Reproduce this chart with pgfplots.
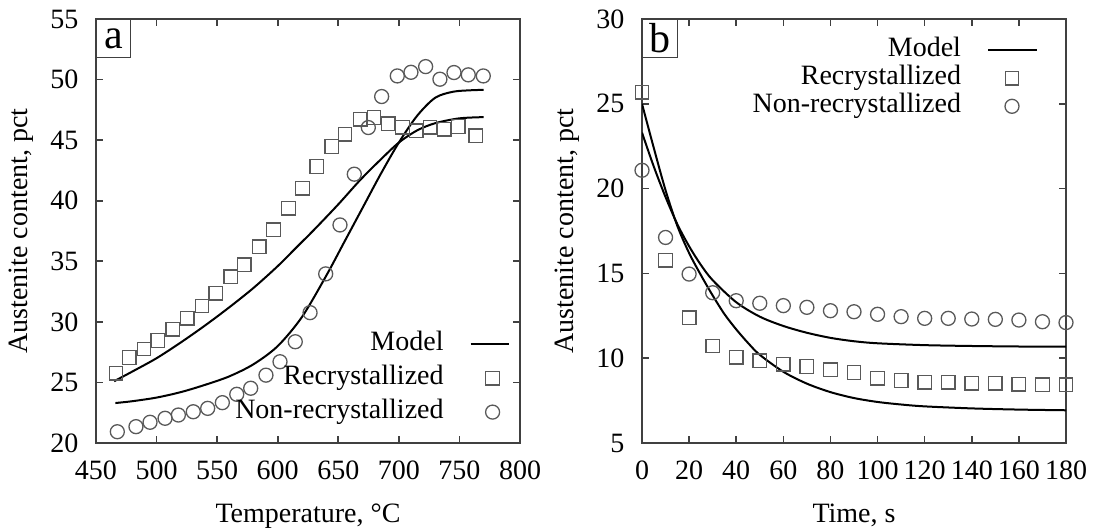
\documentclass[border=0pt]{standalone}
\usepackage{fontspec}
\setmainfont{Liberation Serif}
\usepackage{pgfplots}
\pgfplotsset{compat=1.18}

\pgfplotsset{
  gp/.style={
    scale only axis, width=212pt, height=212pt,
    axis line style={draw=black!75, line width=0.8pt},
    every tick/.style={draw=black!75, line width=0.8pt},
    major tick length=3.5pt,
    tick align=inside, xtick pos=both, ytick pos=both,
    /pgf/number format/assume math mode=true,
    tick label style={font=\fontsize{14}{16}\selectfont},
    xticklabel style={yshift=-4pt},
    yticklabel style={xshift=-4pt},
    label style={font=\fontsize{14}{16}\selectfont},
    xlabel style={yshift=-2.5pt},
    ylabel style={yshift=-1pt},
    legend plot pos=right,
    legend cell align=right,
    legend style={draw=none, fill=none, inner sep=0pt,
      font=\fontsize{14}{16}\selectfont,
      nodes={inner sep=0pt, text height=9.5pt, text depth=3pt},
      /tikz/column sep=13pt},
  },
  model/.style={black, line width=1pt, smooth, mark=none},
  sq/.style={only marks, mark=square, mark size=3.4pt,
    mark options={draw=black!65, line width=0.65pt}},
  ci/.style={only marks, mark=o, mark size=3.5pt,
    mark options={draw=black!65, line width=0.65pt}},
}

\begin{document}
\fontsize{14}{16}\selectfont
\begin{tikzpicture}
\path[use as bounding box] (-48pt,-44pt) rectangle (500.5pt,221.5pt);

% ---------- a: temperature ----------
\begin{axis}[gp, at={(0pt,0pt)},
  xmin=450, xmax=800, ymin=20, ymax=55,
  xtick={450,500,...,800}, ytick={20,25,...,55},
  xlabel={Temperature, °C}, ylabel={Austenite content, pct},
  legend style={at={(axis description cs:1,0)}, anchor=south east,
    xshift=-5pt, yshift=9pt, /tikz/row sep=4.5pt},
  legend image code/.code={\draw[mark repeat=2,mark phase=2,#1]
    plot coordinates {(0pt,0pt) (11pt,0pt) (19pt,0pt)};},
]
\addplot[model] coordinates {
 (465,25.1) (480,25.9) (500,27.0) (520,28.3) (540,29.7) (560,31.2)
 (580,32.8) (600,34.6) (615,36.1) (630,37.6) (650,39.7) (668,41.7)
 (685,43.4) (700,44.8) (715,45.8) (730,46.4) (750,46.8) (770,46.9)};
\addlegendentry{Model}
\addplot[model, forget plot] coordinates {
 (466,23.3) (480,23.45) (500,23.75) (520,24.2) (540,24.8) (560,25.5)
 (580,26.5) (600,28.0) (620,30.4) (640,33.8) (655,36.6) (670,39.4)
 (685,42.2) (700,44.8) (715,47.0) (730,48.5) (745,49.0) (760,49.12)
 (770,49.15)};
\addplot[sq] table {
x y
466.5 25.75
477.5 27.07
489.6 27.76
500.9 28.45
513.3 29.39
525.4 30.30
537.5 31.31
549.0 32.36
561.2 33.73
572.4 34.70
584.8 36.20
596.4 37.59
608.8 39.38
620.4 41.03
632.2 42.82
644.6 44.47
655.5 45.49
668.0 46.73
679.5 46.86
691.3 46.34
703.1 46.07
714.2 45.76
725.7 46.07
737.5 45.90
749.0 46.12
763.4 45.35
};
\addlegendentry{Recrystallized}
\addplot[ci] table {
x y
467.6 20.93
483.0 21.35
494.6 21.71
507.0 22.04
518.0 22.31
530.3 22.58
542.2 22.86
554.3 23.33
566.2 24.02
577.7 24.52
590.3 25.60
601.9 26.71
614.5 28.36
626.7 30.76
639.6 33.96
651.4 38.00
663.2 42.19
674.8 46.04
685.8 48.60
698.7 50.30
710.0 50.60
722.1 51.07
733.9 50.03
745.5 50.58
757.3 50.39
769.7 50.30
};
\addlegendentry{Non-recrystallized}
\node[draw=black!75, line width=0.6pt, anchor=north west, inner sep=0pt,
  minimum width=17pt, minimum height=19pt,
  font=\fontsize{21}{21}\selectfont] at (rel axis cs:0,1) {a};
\end{axis}

% ---------- b: time ----------
\begin{axis}[gp, at={(273pt,0pt)},
  xmin=0, xmax=180, ymin=5, ymax=30,
  xtick={0,20,...,180}, ytick={5,10,...,30},
  xlabel={Time, s}, ylabel={Austenite content, pct},
  legend style={at={(axis description cs:1,1)}, anchor=north east,
    xshift=-14pt, yshift=-9pt, /tikz/row sep=1.6pt},
  legend image code/.code={\draw[mark repeat=2,mark phase=2,#1]
    plot coordinates {(0pt,0pt) (12pt,0pt) (24.3pt,0pt)};},
]
\addplot[model] coordinates {
 (0,25.0) (5,22.4) (10,19.9) (15,17.8) (20,16.2) (25,14.9) (30,13.7)
 (35,12.6) (40,11.7) (45,10.9) (50,10.2) (60,9.2) (70,8.5) (80,8.0)
 (90,7.65) (100,7.42) (110,7.27) (120,7.16) (140,7.04) (160,6.97)
 (180,6.93)};
\addlegendentry{Model}
\addplot[model, forget plot] coordinates {
 (0,23.3) (5,21.3) (10,19.5) (15,17.9) (20,16.6) (25,15.5) (30,14.6)
 (40,13.3) (50,12.45) (60,11.9) (70,11.5) (80,11.2) (90,11.0)
 (100,10.88) (120,10.77) (140,10.72) (160,10.69) (180,10.68)};
\addplot[sq] table {
x y
0 25.68
10 15.78
20 12.39
30 10.72
40 10.06
50 9.84
60 9.65
70 9.51
80 9.31
90 9.15
100 8.82
110 8.68
120 8.59
130 8.59
140 8.53
150 8.53
160 8.47
170 8.43
180 8.43
};
\addlegendentry{Recrystallized}
\addplot[ci] table {
x y
0 21.08
10 17.12
20 14.96
30 13.86
40 13.39
50 13.24
60 13.10
70 13.00
80 12.80
90 12.74
100 12.59
110 12.45
120 12.35
130 12.35
140 12.31
150 12.29
160 12.25
170 12.15
180 12.10
};
\addlegendentry{Non-recrystallized}
\node[draw=black!75, line width=0.6pt, anchor=north west, inner sep=0pt,
  minimum width=17.5pt, minimum height=19pt,
  font=\fontsize{21}{21}\selectfont] at (rel axis cs:0,1) {b};
\end{axis}
\end{tikzpicture}
\end{document}
